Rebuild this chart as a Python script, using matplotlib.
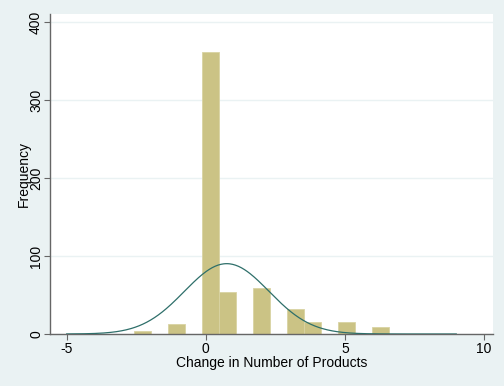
import numpy as np
import matplotlib.pyplot as plt

plt.rcParams['font.family'] = ['Liberation Sans', 'DejaVu Sans']
plt.rcParams['axes.unicode_minus'] = False

# --- data --------------------------------------------

bin_left = [-2.58, -1.36, -0.14, 0.47, 1.69, 2.92, 3.53, 4.75, 5.97]
bin_count = [4, 13, 362, 54, 59, 32, 15, 15, 9]
bin_width = 0.611

norm_mean = 0.75
norm_sd = 1.52
curve_range = [-5, 9]

x_ticks = [-5, 0, 5, 10]
y_ticks = [0, 100, 200, 300, 400]

# --- figure ---------------------

bg = '#eaf2f3'
fig = plt.figure(figsize=(5.04, 3.86), dpi=100, facecolor=bg)
ax = fig.add_axes([0.0992, 0.1347, 0.8784, 0.829])
ax.set_facecolor('white')

ax.bar(bin_left, bin_count, width=bin_width, align='edge',
	color='#cbc385', edgecolor='#d9d3a3', linewidth=0.6, zorder=2)

n_total = sum(bin_count)
xs = np.linspace(curve_range[0], curve_range[1], 400)
ys = n_total * bin_width * np.exp(-0.5 * ((xs - norm_mean) / norm_sd) ** 2) / (norm_sd * np.sqrt(2 * np.pi))
ax.plot(xs, ys, color='#2e6f6a', lw=0.9, zorder=3)

ax.set_xlim(-5.6, 10.31)
ax.set_ylim(0, 410.7)
ax.set_xticks(x_ticks)
ax.set_yticks(y_ticks)
ax.set_yticklabels([str(v) for v in y_ticks], rotation=90, va='center')
ax.grid(axis='y', color=bg, lw=1.0, zorder=1)

for s in ['top', 'right']:
	ax.spines[s].set_visible(False)
for s in ['left', 'bottom']:
	ax.spines[s].set_color('#666666')
	ax.spines[s].set_linewidth(1.0)

ax.tick_params(colors='#666666', labelcolor='black', labelsize=10, length=4, width=0.8)
ax.tick_params(axis='x', pad=2)
ax.tick_params(axis='y', pad=1)

ax.set_xlabel('Change in Number of Products', fontsize=10, labelpad=0)
ax.set_ylabel('Frequency', fontsize=10, labelpad=-1)

fig.savefig('out.png', dpi=100, facecolor=bg)
plt.close()
